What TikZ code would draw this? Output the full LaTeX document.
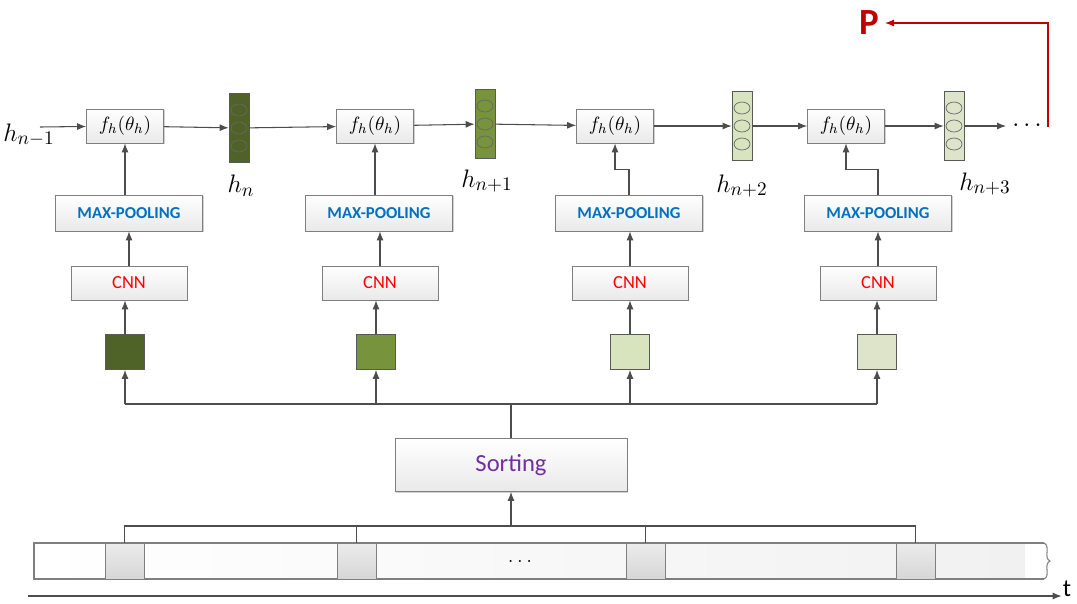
\documentclass[tikz,border=0pt]{standalone}
\usepackage{fontspec}
\setsansfont{Carlito}
\usepackage{tikz}
\usetikzlibrary{arrows.meta,shadows}
\definecolor{Wire}{HTML}{4D4D4D}
\definecolor{Frame}{HTML}{7F7F7F}
\definecolor{Fog}{HTML}{E9E9E9}
\definecolor{Moss}{HTML}{4F6228}
\definecolor{Fern}{HTML}{77933C}
\definecolor{Sage}{HTML}{D7E4BD}
\definecolor{Pale}{HTML}{DDE4C9}
\definecolor{Azure}{HTML}{0070C0}
\definecolor{Scarlet}{HTML}{FF0000}
\definecolor{Plum}{HTML}{7030A0}
\definecolor{Crimson}{HTML}{C00000}
\tikzset{
  flowarrow/.style={-{Latex[length=1.8mm,width=1.4mm]},line width=0.6pt,draw=Wire},
  flowline/.style={line width=0.6pt,draw=Wire},
  redarrow/.style={-{Latex[length=1.8mm,width=1.4mm]},line width=0.6pt,draw=Crimson},
  boxbase/.style={draw=Frame,top color=white,bottom color=Fog,align=center,inner sep=0pt,
    drop shadow={shadow xshift=0.6pt,shadow yshift=-0.6pt,fill=black!35,opacity=0.5}},
  fbox/.style={boxbase,minimum width=1.54cm,minimum height=0.68cm,font=\fontsize{11}{13}\selectfont},
  poolbox/.style={boxbase,minimum width=2.94cm,minimum height=0.72cm,text=Azure,
    font=\sffamily\bfseries\fontsize{9.5}{11}\selectfont},
  cnnbox/.style={boxbase,minimum width=2.32cm,minimum height=0.68cm,text=Scarlet,
    font=\sffamily\fontsize{10.5}{12}\selectfont},
  stateblock/.style={draw=Frame!70!black,minimum width=0.4cm,minimum height=1.38cm,inner sep=0pt},
  patchblock/.style={draw=Frame!70!black,minimum width=0.78cm,minimum height=0.7cm,inner sep=0pt},
  tokenblock/.style={draw=Frame,top color=gray!15,bottom color=gray!32,minimum width=0.78cm,
    minimum height=0.72cm,inner sep=0pt},
  hlabel/.style={font=\fontsize{15}{17}\selectfont,inner sep=1pt},
}
\begin{document}
\begin{tikzpicture}[x=0.02cm,y=-0.02cm]
    \useasboundingbox (0,0) rectangle (1077,603);

    % recurrent row
    \node[hlabel] (hprev) at (29,135) {$h_{n-1}$};
    \coordinate (hin) at (40,127);
    \node[fbox] (f1) at (125,126) {$f_h(\theta_h)$};
    \node[fbox] (f2) at (375,126) {$f_h(\theta_h)$};
    \node[fbox] (f3) at (615,126) {$f_h(\theta_h)$};
    \node[fbox] (f4) at (846,126) {$f_h(\theta_h)$};
    \node[stateblock,fill=Moss] (v1) at (239,128) {};
    \node[stateblock,fill=Fern] (v2) at (485,124) {};
    \node[stateblock,fill=Sage] (v3) at (742,126) {};
    \node[stateblock,fill=Pale] (v4) at (954,126) {};
    \foreach \v in {v1,v2,v3,v4}
      \foreach \k in {-18,0,18}
        \draw[draw=black!60,line width=0.4pt] (\v.center) ++(0,\k) ellipse [x radius=0.16cm,y radius=0.12cm];
    \node[hlabel] (hn) at (241,186) {$h_{n}$};
    \node[hlabel] (hn1) at (487,181) {$h_{n+1}$};
    \node[hlabel] (hn2) at (742,186) {$h_{n+2}$};
    \node[hlabel] (hn3) at (985,184) {$h_{n+3}$};
    \node[font=\Large] (more) at (1027,126) {$\cdots$};
    \coordinate (pout) at (1048,127);
    \node[text=Crimson,font=\sffamily\bfseries\fontsize{21}{24}\selectfont] (P) at (869,23) {P};

    \draw[flowarrow] (hin) -- (f1);
    \draw[flowarrow] (f1) -- (v1);
    \draw[flowarrow] (v1) -- (f2);
    \draw[flowarrow] (f2) -- (v2);
    \draw[flowarrow] (v2) -- (f3);
    \draw[flowarrow] (f3) -- (v3);
    \draw[flowarrow] (v3) -- (f4);
    \draw[flowarrow] (f4) -- (v4);
    \draw[flowarrow] (v4) -- (more);
    \draw[redarrow] (pout) |- (P);

    % feature extraction
    \node[poolbox] (mp1) at (129,213) {MAX-POOLING};
    \node[poolbox] (mp2) at (379,213) {MAX-POOLING};
    \node[poolbox] (mp3) at (629,213) {MAX-POOLING};
    \node[poolbox] (mp4) at (878,213) {MAX-POOLING};
    \node[cnnbox] (cnn1) at (129,283) {CNN};
    \node[cnnbox] (cnn2) at (380,283) {CNN};
    \node[cnnbox] (cnn3) at (630,283) {CNN};
    \node[cnnbox] (cnn4) at (878,283) {CNN};
    \node[patchblock,fill=Moss] (p1) at (125,352) {};
    \node[patchblock,fill=Fern] (p2) at (376,352) {};
    \node[patchblock,fill=Sage] (p3) at (630,352) {};
    \node[patchblock,fill=Pale] (p4) at (877,352) {};

    \draw[flowarrow] (f1.south |- mp1.north) -- (f1.south);
    \draw[flowarrow] (f2.south |- mp2.north) -- (f2.south);
    \draw[flowarrow] (mp3.north) -- ++(0,-25) -| (f3.south);
    \draw[flowarrow] (mp4.north) -- ++(0,-25) -| (f4.south);
    \draw[flowarrow] (cnn1.north) -- (cnn1.north |- mp1.south);
    \draw[flowarrow] (cnn2.north) -- (cnn2.north |- mp2.south);
    \draw[flowarrow] (cnn3.north) -- (cnn3.north |- mp3.south);
    \draw[flowarrow] (cnn4.north) -- (cnn4.north |- mp4.south);
    \draw[flowarrow] (p1.north) -- (p1.north |- cnn1.south);
    \draw[flowarrow] (p2.north) -- (p2.north |- cnn2.south);
    \draw[flowarrow] (p3.north) -- (p3.north |- cnn3.south);
    \draw[flowarrow] (p4.north) -- (p4.north |- cnn4.south);

    % sorting
    \node[boxbase,minimum width=4.64cm,minimum height=1.06cm,text=Plum,
      font=\sffamily\fontsize{14}{16}\selectfont] (sort) at (511,465) {Sorting};
    \coordinate (bus) at (511,404);
    \draw[flowline] (sort.north) -- (bus);
    \draw[flowline] (p1.south |- bus) -- (p4.south |- bus);
    \foreach \i in {1,...,4}
      \draw[flowarrow] (p\i.south |- bus) -- (p\i.south);

    % input sequence
    \fill[left color=white,right color=gray!11] (34,543) rectangle (1025,579);
    \draw[draw=Frame,line width=0.6pt] (1044,543) -- (34,543) -- (34,579) -- (1044,579);
    \draw[draw=Frame,line width=0.6pt] (1044,543) .. controls (1051,546) and (1043,558) .. (1050,561)
      .. controls (1043,564) and (1051,576) .. (1044,579);
    \node[tokenblock] (g1) at (124.5,561) {};
    \node[tokenblock] (g2) at (356.5,561) {};
    \node[tokenblock] (g3) at (645.5,561) {};
    \node[tokenblock] (g4) at (915.5,561) {};
    \node[font=\large] (tdots) at (520,561) {$\dots$};
    \coordinate (pick) at (511,526);
    \draw[flowline] (g1.north) -- (g1.north |- pick) -- (g4.north |- pick) -- (g4.north);
    \draw[flowline] (g2.north) -- (g2.north |- pick);
    \draw[flowline] (g3.north) -- (g3.north |- pick);
    \draw[flowarrow] (pick) -- (sort.south);

    % time axis
    \coordinate (t0) at (28,596);
    \node[font=\sffamily\fontsize{14}{16}\selectfont,inner sep=0.5pt] (tlab) at (1067,589) {t};
    \draw[flowarrow] (t0) -- (t0 -| tlab.west);
\end{tikzpicture}
\end{document}
